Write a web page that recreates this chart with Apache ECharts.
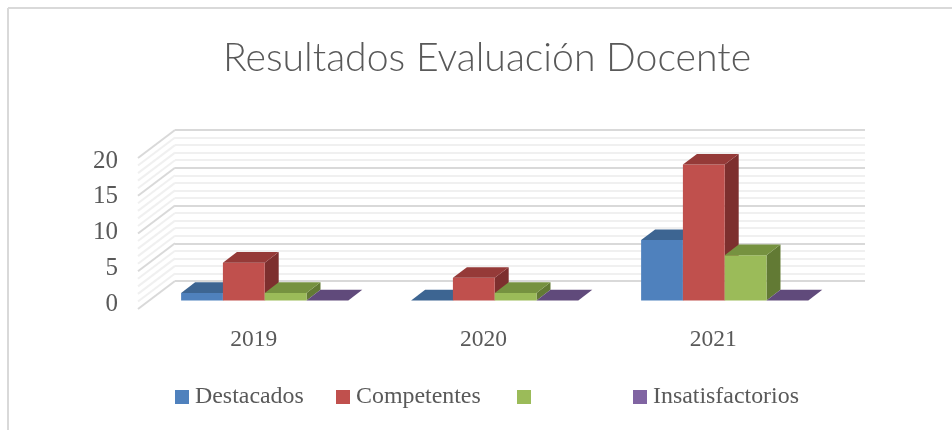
<!DOCTYPE html>
<html><head><meta charset="utf-8">
<style>html,body{margin:0;padding:0;background:#fff}#c{width:952px;height:430px}</style>
<script src="https://cdn.jsdelivr.net/npm/echarts@6/dist/echarts.min.js"></script>
</head><body><div id="c"></div>
<script>
const years = ['2019', '2020', '2021'];
const destacados = [1, 0, 8];
const competentes = [5, 3, 18];
const sinNombre = [1, 1, 6];
const insatisfactorios = [0, 0, 0];
const seriesNames = ['Destacados', 'Competentes', ' ', 'Insatisfactorios'];
const wallTicks = [0,1,2,3,4,5,6,7,8,9,10,11,12,13,14,15,16,17,18,19,20];

const seriesValues = [destacados, competentes, sinNombre, insatisfactorios];
const front = ['#4f81bd', '#c0504d', '#9bbb59', '#8064a2'];
const top3d = ['#3d6592', '#953a38', '#769240', '#604a7b'];
const side = ['#365a85', '#7d2f2e', '#627a34', '#503d69'];
const legendLeft = [175, 336, 517, 633];

const serif = '"Liberation Serif","Times New Roman",serif';
const textCol = '#595959';
const depth = {dx: 14, dy: 10.7};
const barFrac = 0.1817, shiftX = -25.3, shiftY = 19.5;
const floor = {dx: -37, dy: 28};

const bars = seriesValues.map((vals, i) => ({
  type: 'custom', name: seriesNames[i], xAxisIndex: 0, yAxisIndex: 0, clip: false, z: 5,
  itemStyle: {color: front[i]},
  data: vals.map((v, k) => [k, v]),
  encode: {x: 0, y: 1},
  renderItem(params, api) {
    const v = api.value(1);
    const p = api.coord([api.value(0), v]);
    const base = api.coord([api.value(0), 0]);
    const w = api.size([1, 0])[0] * barFrac;
    const x = p[0] + shiftX - 2 * w + i * w;
    const yt = p[1] + shiftY, yb = base[1] + shiftY;
    const {dx, dy} = depth;
    const children = [];
    if (v > 0) {
      children.push({type: 'polygon', shape: {points: [[x + w, yt], [x + w + dx, yt - dy], [x + w + dx, yb - dy], [x + w, yb]]}, style: {fill: side[i]}});
      children.push({type: 'rect', shape: {x, y: yt, width: w, height: yb - yt}, style: {fill: front[i]}});
    }
    children.push({type: 'polygon', shape: {points: [[x, yt], [x + w, yt], [x + w + dx, yt - dy], [x + dx, yt - dy]]}, style: {fill: top3d[i]}});
    return {type: 'group', children};
  }
}));

const sideWall = {
  type: 'custom', xAxisIndex: 0, yAxisIndex: 0, clip: false, silent: true, z: 1,
  data: wallTicks.map(t => [0, t]),
  encode: {y: 1},
  renderItem(params, api) {
    const t = api.value(1);
    const y = api.coord([0, t])[1];
    const x = params.coordSys.x;
    const major = t % 5 === 0;
    return {type: 'line', shape: {x1: x, y1: y, x2: x + floor.dx, y2: y + floor.dy},
      style: {stroke: major ? '#d9d9d9' : '#f0f0f0', lineWidth: 2}};
  }
};

const option = {
  animation: false,
  backgroundColor: '#fff',
  title: {text: 'Resultados Evaluación Docente', left: 482, top: 34, textAlign: 'center',
    textStyle: {fontFamily: 'Lato', fontWeight: 300, fontSize: 39.2, color: textCol}},
  legend: seriesNames.map((n, i) => ({
    data: [n], left: legendLeft[i], top: 385, padding: 0, itemWidth: 14, itemHeight: 14, icon: 'rect',
    selectedMode: false,
    textStyle: {fontFamily: serif, fontSize: 23.9, color: textCol, padding: [7, 0, 0, 1]}
  })),
  grid: [
    {left: 175, width: 690, top: 130, height: 151},
    {left: 139, width: 689, top: 161, height: 143}
  ],
  xAxis: [
    {type: 'category', gridIndex: 0, data: years, show: false},
    {type: 'category', gridIndex: 1, data: years, axisLine: {show: false}, axisTick: {show: false},
      axisLabel: {margin: 24, fontFamily: serif, fontSize: 23.5, color: textCol}}
  ],
  yAxis: [
    {type: 'value', gridIndex: 0, min: 0, max: 20, interval: 5,
      axisLine: {show: false}, axisTick: {show: false}, axisLabel: {show: false},
      splitLine: {show: true, lineStyle: {color: '#d9d9d9', width: 2}},
      minorTick: {show: false, splitNumber: 5},
      minorSplitLine: {show: true, lineStyle: {color: '#f0f0f0', width: 2}}},
    {type: 'value', gridIndex: 1, min: 0, max: 20, interval: 5,
      axisLine: {show: false}, axisTick: {show: false}, splitLine: {show: false},
      axisLabel: {margin: 21, fontFamily: serif, fontSize: 25, color: textCol}}
  ],
  series: [sideWall].concat(bars),
  graphic: [
    {type: 'line', shape: {x1: 8, y1: 8, x2: 952, y2: 8}, style: {stroke: '#d9d9d9', lineWidth: 2}, silent: true},
    {type: 'line', shape: {x1: 8, y1: 8, x2: 8, y2: 430}, style: {stroke: '#d9d9d9', lineWidth: 2}, silent: true}
  ]
};
echarts.init(document.getElementById('c'), null, {renderer: 'canvas'}).setOption(option);
</script></body></html>
